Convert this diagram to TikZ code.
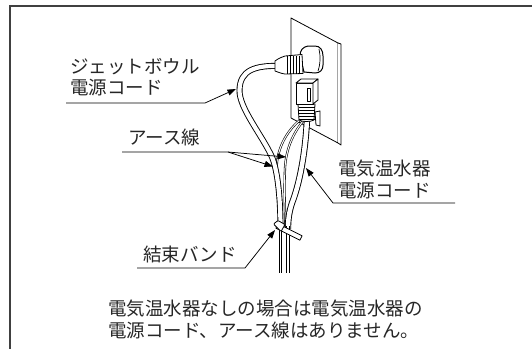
\documentclass[tikz,border=0pt]{standalone}
\usepackage{fontspec}
\setmainfont{Noto Sans CJK JP}
\usetikzlibrary{arrows.meta}
\begin{document}
\begin{tikzpicture}[x=1pt,y=-1pt,
  txt/.style={anchor=base west, inner sep=0pt, font=\fontsize{18.5}{22}\selectfont, text=black!85},
  leader/.style={line width=0.75pt},
  tip/.style={-{Triangle[length=8.5pt,width=6pt]}},
  cord/.style={line width=0.9pt, double=white, double distance=#1},
  wire/.style={line width=0.6pt, double=white, double distance=1pt},
  part/.style={line width=0.8pt, fill=white, line join=round},
]
\useasboundingbox (0,0) rectangle (532,349);
% frame
\draw[line width=1.3pt, black!75] (532,6) -- (10,6) -- (10,349);

% wall plate
\draw[part] (291,18) -- (338,43) -- (338,143) -- (291,118) -- cycle;
\draw[part] (338,43) -- (341,44) -- (341,145) -- (338,143);

% jet bowl plug cap
\draw[part, line width=1pt] (300,56) .. controls (300,50) and (303,47) .. (308,46) -- (315,46)
  .. controls (320,46) and (323,50) .. (323,56) -- (323,65)
  .. controls (323,70) and (320,73) .. (315,73) -- (304,72) -- cycle;
\draw[line width=0.7pt] (319,49) .. controls (320.5,55) and (320.5,64) .. (318,71);

% cords
\draw[wire] (300,120) .. controls (288,130) and (279,145) .. (277,162)
  .. controls (275,185) and (280,210) .. (283,229);
\draw[wire] (303,121) .. controls (292,135) and (286,150) .. (285,168)
  .. controls (284,190) and (285,210) .. (285.5,229);
\draw[cord=4.5pt] (307,118) .. controls (306,145) and (301,180) .. (292,203)
  .. controls (289,212) and (288,220) .. (288,229);
\draw[cord=4.2pt] (282,66) .. controls (255,65) and (240,70) .. (239.5,90)
  .. controls (239,108) and (262,135) .. (272,157)
  .. controls (278,172) and (280.5,200) .. (280.5,229);
\draw[cord=1.6pt, line width=0.8pt] (280.5,226) -- (280.5,273);
\draw[cord=2.6pt, line width=0.8pt] (288,226) -- (288,273);

% jet bowl plug head with ribs
\draw[part] (275,61) .. controls (279,58) and (282,57) .. (285,56) -- (302,54.5) -- (303,73.5)
  -- (285,74) .. controls (281,73.5) and (278,72) .. (275,71) -- cycle;
\foreach \x in {287,290,...,301} \draw[line width=0.6pt] (\x,55.5) -- (\x,73.5);

% water heater plug
\draw[part] (298,104) -- (315,104) -- (314,120) .. controls (311,122) and (302,122) .. (299,120) -- cycle;
\foreach \y in {107,110,...,119} \draw[line width=0.7pt] (298.5,\y) -- (314.5,\y);
\draw[part] (315,112) -- (320,111) -- (320,126) -- (316,125) -- cycle;
\draw[part] (296,83) rectangle (313,104);
\draw[part] (296,83) -- (301,79) -- (318,79) -- (313,83) -- cycle;
\draw[part] (313,83) -- (318,79) -- (318,100) -- (313,104) -- cycle;
\draw[part] (307,88) rectangle (310,101);

% cable tie
\draw[part] (278.1,223.8) -- (302.1,235.8) -- (299.9,240.2) -- (275.9,228.2) -- cycle;
\draw[part, rounded corners=1pt] (273.5,224) -- (278,220.5) -- (285,224.5) -- (281,231.5) -- cycle;

% labels
\node[txt] (jet1) at (70,73) {ジェットボウル};
\node[txt] (jet2) at (70,94.5) {電源コード};
\node[txt] (earth) at (128,144) {アース線};
\node[txt] (heat1) at (338,175) {電気温水器};
\node[txt] (heat2) at (338,197) {電源コード};
\node[txt] (band) at (143,261) {結束バンド};
\node[txt] (note1) at (108,315) {電気温水器なしの場合は電気温水器の};
\node[txt] (note2) at (108,337) {電源コード、アース線はありません。};

% leader lines
\coordinate (jetL) at (66,103);   \coordinate (jetR) at (205,103);  \coordinate (jetT) at (236,89);
\coordinate (earL) at (122,152);  \coordinate (earR) at (228,152);
\coordinate (earTa) at (286,157); \coordinate (earTb) at (273,166.5);
\coordinate (heaR) at (455,203);  \coordinate (heaL) at (333,203);  \coordinate (heaT) at (306,168);
\coordinate (banL) at (137,268);  \coordinate (banR) at (245,268);  \coordinate (banT) at (275,230);

\draw[leader, tip] (jetL) -- (jetR) -- (jetT);
\draw[leader, tip] (earL) -- (earR) -- (earTa);
\draw[leader, tip] (earR) -- (earTb);
\draw[leader, tip] (heaR) -- (heaL) -- (heaT);
\draw[leader, tip] (banL) -- (banR) -- (banT);
\end{tikzpicture}
\end{document}
